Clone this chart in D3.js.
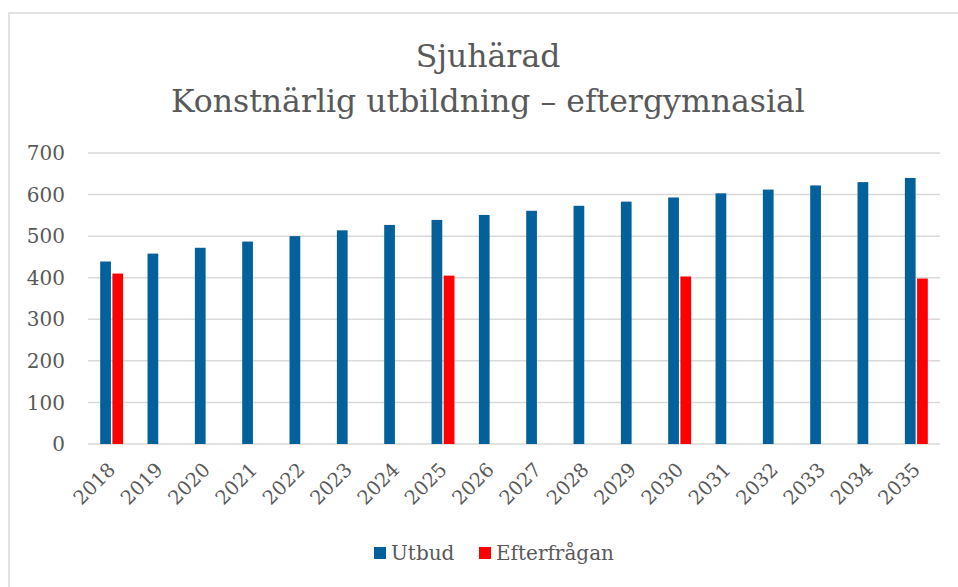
<!DOCTYPE html>
<html lang="sv">
<head>
<meta charset="UTF-8">
<title>Sjuhärad</title>
<script src="https://d3js.org/d3.v7.min.js"></script>
<style>
    body { margin: 0; background: #fff; }
    text { font-family: "DejaVu Serif", "Liberation Serif", serif; fill: #595959; }
</style>
</head>
<body>
<svg width="958" height="587"></svg>
<script>
    const years = ["2018", "2019", "2020", "2021", "2022", "2023", "2024", "2025", "2026",
        "2027", "2028", "2029", "2030", "2031", "2032", "2033", "2034", "2035"];
    const utbud = [439, 458, 472, 487, 500, 514, 527, 539, 551, 561, 573, 583, 593, 603, 612, 622, 630, 640];
    const efterfragan = [410, null, null, null, null, null, null, 405, null, null, null, null, 403, null, null, null, null, 398];
    const yTicks = [0, 100, 200, 300, 400, 500, 600, 700];
    const seriesNames = ["Utbud", "Efterfrågan"];
    const colors = ["#02609B", "#FF0000"];

    const svg = d3.select("svg");

    // ram runt diagrammet
    svg.append("rect")
        .attr("x", 9).attr("y", 13)
        .attr("width", 980).attr("height", 600)
        .attr("fill", "none")
        .attr("stroke", "#d9d9d9")
        .attr("stroke-width", 1.5);

    const x = d3.scaleBand().domain(years).range([88, 940]).paddingInner(0).paddingOuter(0);
    const x1 = d3.scaleBand().domain(seriesNames).range([0, x.bandwidth()]).paddingInner(0.12).paddingOuter(1.0);
    const y = d3.scaleLinear().domain([0, 700]).range([444, 153]);

    // rutnät
    svg.append("g")
        .selectAll("line")
        .data(yTicks)
        .enter()
        .append("line")
        .attr("x1", 88).attr("x2", 940)
        .attr("y1", d => y(d)).attr("y2", d => y(d))
        .attr("stroke", "#d9d9d9")
        .attr("stroke-width", 1.5);

    // y-axel
    svg.append("g")
        .selectAll("text")
        .data(yTicks)
        .enter()
        .append("text")
        .attr("x", 65)
        .attr("y", d => y(d))
        .attr("dy", "0.36em")
        .attr("text-anchor", "end")
        .style("font-size", "20px")
        .text(d => d);

    // staplar
    const rows = years.map((yr, i) => ({year: yr, values: [utbud[i], efterfragan[i]]}));
    svg.append("g")
        .selectAll("g")
        .data(rows)
        .enter()
        .append("g")
        .attr("transform", d => "translate(" + x(d.year) + ",0)")
        .selectAll("rect")
        .data(d => d.values.map((v, j) => ({name: seriesNames[j], value: v, color: colors[j]})).filter(d => d.value != null))
        .enter()
        .append("rect")
        .attr("x", d => x1(d.name))
        .attr("width", x1.bandwidth())
        .attr("y", d => y(d.value))
        .attr("height", d => y(0) - y(d.value))
        .attr("fill", d => d.color);

    // årtal
    svg.append("g")
        .selectAll("text")
        .data(years)
        .enter()
        .append("text")
        .attr("text-anchor", "end")
        .attr("transform", d => "translate(" + (x(d) + x.bandwidth() / 2) + ",466) rotate(-45)")
        .attr("dy", "0.36em")
        .style("font-size", "19.5px")
        .text(d => d);

    // titel
    svg.append("text")
        .attr("x", 488).attr("y", 67)
        .attr("text-anchor", "middle")
        .style("font-size", "31.5px")
        .text("Sjuhärad");
    svg.append("text")
        .attr("x", 488).attr("y", 112)
        .attr("text-anchor", "middle")
        .style("font-size", "31.5px")
        .text("Konstnärlig utbildning – eftergymnasial");

    // förklaring
    const legendX = [374, 479];
    const legend = svg.append("g")
        .selectAll("g")
        .data(seriesNames)
        .enter()
        .append("g")
        .attr("transform", (d, i) => "translate(" + legendX[i] + ",547)");
    legend.append("rect")
        .attr("width", 12).attr("height", 12)
        .attr("fill", (d, i) => colors[i]);
    legend.append("text")
        .attr("x", 17).attr("y", 13)
        .style("font-size", "20px")
        .text(d => d);
</script>
</body>
</html>
